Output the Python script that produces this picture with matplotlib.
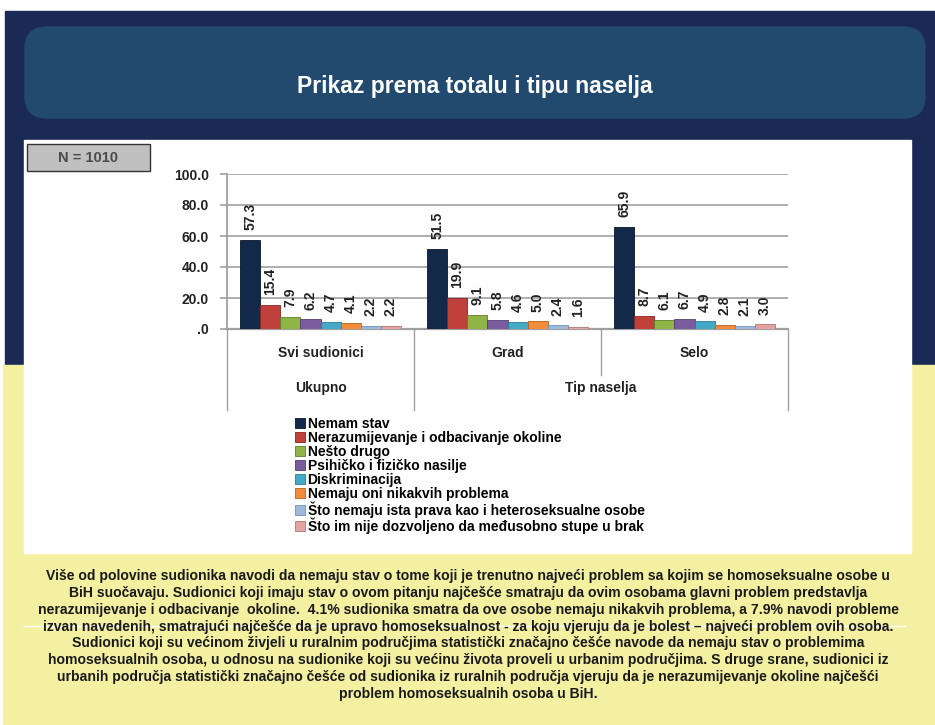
import numpy as np
import matplotlib
matplotlib.use('Agg')
import matplotlib.pyplot as plt
from matplotlib.patches import Rectangle, FancyBboxPatch
from matplotlib.ticker import FuncFormatter

plt.rcParams['font.family'] = ['Liberation Sans', 'DejaVu Sans']

title = 'Prikaz prema totalu i tipu naselja'
groups = ['Svi sudionici', 'Grad', 'Selo']
supergroups = ['Ukupno', 'Tip naselja']
series = ['Nemam stav',
          'Nerazumijevanje i odbacivanje okoline',
          'Nešto drugo',
          'Psihičko i fizičko nasilje',
          'Diskriminacija',
          'Nemaju oni nikakvih problema',
          'Što nemaju ista prava kao i heteroseksualne osobe',
          'Što im nije dozvoljeno da međusobno stupe u brak']
# values per series: [Svi sudionici, Grad, Selo]
nemam_stav = [57.3, 51.5, 65.9]
nerazumijevanje = [15.4, 19.9, 8.7]
nesto_drugo = [7.9, 9.1, 6.1]
nasilje = [6.2, 5.8, 6.7]
diskriminacija = [4.7, 4.6, 4.9]
nemaju_problema = [4.1, 5.0, 2.8]
ista_prava = [2.2, 2.4, 2.1]
brak = [2.2, 1.6, 3.0]
values = [nemam_stav, nerazumijevanje, nesto_drugo, nasilje,
          diskriminacija, nemaju_problema, ista_prava, brak]
colors = ['#13294a', '#c0403c', '#8fb547', '#7a5c9e',
          '#44a9c6', '#f08c3a', '#9db8da', '#e2a3a1']
edges = ['#0a1628', '#8a2522', '#5f7d2c', '#533e70',
         '#2c7c92', '#b5621f', '#6f8fb8', '#b57572']
yticks = [0, 20, 40, 60, 80, 100]
n_text = 'N = 1010'
note = ('Više od polovine sudionika navodi da nemaju stav o tome koji je trenutno najveći problem sa kojim se homoseksualne osobe u\n'
        'BiH suočavaju. Sudionici koji imaju stav o ovom pitanju najčešće smatraju da ovim osobama glavni problem predstavlja\n'
        'nerazumijevanje i odbacivanje  okoline.  4.1% sudionika smatra da ove osobe nemaju nikakvih problema, a 7.9% navodi probleme\n'
        'izvan navedenih, smatrajući najčešće da je upravo homoseksualnost - za koju vjeruju da je bolest – najveći problem ovih osoba.\n'
        'Sudionici koji su većinom živjeli u ruralnim područjima statistički značajno češće navode da nemaju stav o problemima\n'
        'homoseksualnih osoba, u odnosu na sudionike koji su većinu života proveli u urbanim područjima. S druge srane, sudionici iz\n'
        'urbanih područja statistički značajno češće od sudionika iz ruralnih područja vjeruju da je nerazumijevanje okoline najčešći\n'
        'problem homoseksualnih osoba u BiH.')

W, H = 935, 725
fig = plt.figure(figsize=(W/100, H/100), dpi=100)
fig.patch.set_facecolor('white')

# background, pixel coordinates
bg = fig.add_axes([0, 0, 1, 1])
bg.set_xlim(0, W); bg.set_ylim(H, 0); bg.axis('off')
bg.add_patch(Rectangle((5, 11), 930, 360, color='#1b2a55', zorder=0))
bg.add_patch(Rectangle((3, 365), 932, 360, color='#f4f0a2', zorder=0))
bg.add_patch(FancyBboxPatch((25, 27), 900, 91, boxstyle='round,pad=0,rounding_size=22',
                            color='#214a6e', zorder=1))
bg.text(475, 86, title, color='white', fontsize=16.5, fontweight='bold',
        ha='center', va='center', zorder=2)
bg.add_patch(Rectangle((24, 140), 887, 413, color='white', zorder=1))
bg.add_patch(Rectangle((27, 144), 123, 27, facecolor='#c0c0c0', edgecolor='#333333',
                       linewidth=1, zorder=2))
bg.text(88, 158, n_text, color='#4a4a4a', fontsize=10.5, fontweight='bold',
        ha='center', va='center', zorder=3)
bg.plot([24, 905], [626, 626], color='white', linewidth=1, zorder=1)
bg.text(468, 635, note, color='#1a1a1a', fontsize=10.1, fontweight='bold',
        ha='center', va='center', linespacing=1.25, zorder=3)

# chart
x0, x1, ytop, ybot = 227, 788, 174, 329
ax = fig.add_axes([x0/W, 1-ybot/H, (x1-x0)/W, (ybot-ytop)/H])
ax.set_facecolor('none')
n = len(series)
bw = 0.86/n
xg = np.arange(len(groups))
for i in range(n):
    xs = xg - 0.43 + (i+0.5)*bw
    ax.bar(xs, values[i], width=bw, color=colors[i], edgecolor=edges[i],
           linewidth=0.6, label=series[i], zorder=3)
    for x, v in zip(xs, values[i]):
        ax.annotate('%.1f' % v, (x, v), xytext=(0, 7), textcoords='offset points',
                    rotation=90, ha='center', va='bottom', fontsize=10,
                    fontweight='bold', color='#222222')
ax.set_xlim(-0.5, 2.5)
ax.set_ylim(0, 100)
ax.set_yticks(yticks)
ax.yaxis.set_major_formatter(FuncFormatter(lambda v, p: '.0' if v == 0 else '%.1f' % v))
ax.tick_params(axis='y', length=5, color='#a0a0a0', width=1.2, labelsize=10,
               labelcolor='#222222', pad=8)
for lab in ax.get_yticklabels():
    lab.set_fontweight('bold')
ax.set_xticks([])
ax.grid(axis='y', color='#a8a8a8', linewidth=1.3, zorder=0)
for s in ['top', 'right']:
    ax.spines[s].set_visible(False)
ax.spines['left'].set_color('#a0a0a0'); ax.spines['left'].set_linewidth(1.3)
ax.spines['bottom'].set_color('#a0a0a0'); ax.spines['bottom'].set_linewidth(1.6)

tr = ax.get_xaxis_transform()
def ay(px):
    return (ybot - px)/(ybot - ytop)
for xs, yend in [(-0.5, 410), (0.5, 410), (1.5, 375), (2.5, 410)]:
    ax.plot([xs, xs], [0, ay(yend)], transform=tr, color='#a0a0a0', linewidth=1,
            clip_on=False)
for g, name in zip(xg, groups):
    ax.text(g, ay(353), name, transform=tr, ha='center', va='center', fontsize=10,
            fontweight='bold', color='#222222')
for xc, name in zip([0, 1.5], supergroups):
    ax.text(xc, ay(388), name, transform=tr, ha='center', va='center', fontsize=10,
            fontweight='bold', color='#222222')

leg = ax.legend(loc='upper left', bbox_to_anchor=(295/W, 1-417/H), bbox_transform=fig.transFigure,
                frameon=False, fontsize=10, handlelength=0.7, handleheight=0.7,
                handletextpad=0.2, labelspacing=0.0, borderpad=0, borderaxespad=0)
for t in leg.get_texts():
    t.set_fontweight('bold')

fig.savefig('out.png', dpi=100)
